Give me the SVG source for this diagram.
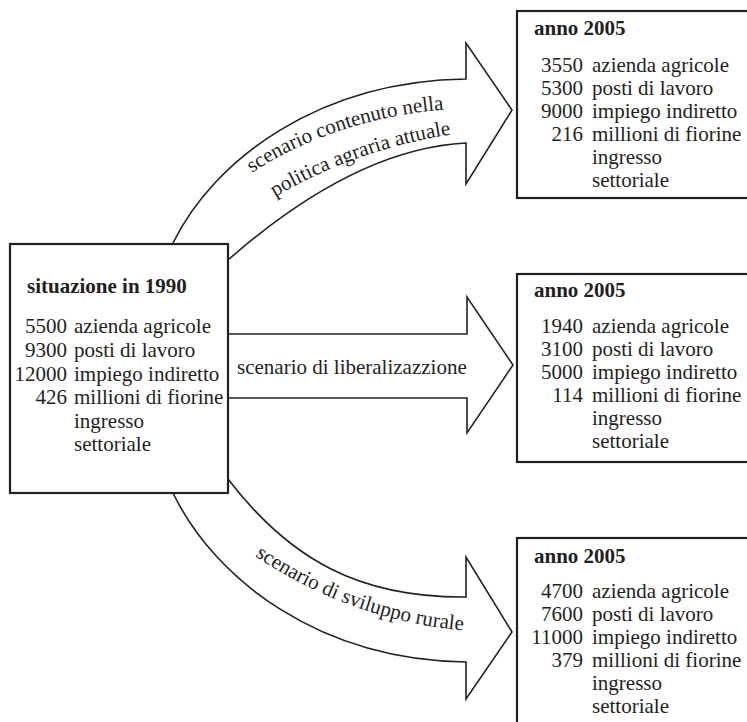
<svg xmlns="http://www.w3.org/2000/svg" width="747" height="722" viewBox="0 0 747 722">
<style>
text{font-family:"Liberation Serif","Times New Roman",serif;font-size:21px;fill:#231f20}
.b{font-weight:bold}
.n{text-anchor:end}
.box{fill:#fff;stroke:#231f20;stroke-width:2.2}
.arr{fill:none;stroke:#231f20;stroke-width:1.6;stroke-linejoin:miter}
</style>
<defs>
<path id="t1" d="M252,173 C301,140 372,114 452,109"/>
<path id="t2" d="M275,197 C325,167 394,141 464,133"/>
<path id="t3" d="M255,556 C318,598 390,625 470,631"/>
</defs>
<rect width="747" height="722" fill="#fff"/>
<g id="connectors">
<path class="arr" d="M173,243 C215,158 320,81 466,79 L466,43 L512,110 L466,184 L466,143 C370,148 285,210 228,260"/>
<path class="arr" d="M228,334 L467,334 L467,297 L513,365 L467,433 L467,398 L228,398"/>
<path class="arr" d="M228,479 C290,560 360,598 466,597 L466,557 L512,632 L466,699 L466,662 C320,660 215,580 173,493"/>
<text><textPath href="#t1">scenario contenuto nella</textPath></text>
<text><textPath href="#t2">politica agraria attuale</textPath></text>
<text x="237" y="374">scenario di liberalizazzione</text>
<text><textPath href="#t3">scenario di sviluppo rurale</textPath></text>
</g>
<g id="situazione1990">
<rect class="box" x="10" y="244" width="218" height="249"/>
<text class="b" x="27" y="293">situazione in 1990</text>
<text class="n" x="67" y="333">5500</text><text x="74" y="333">azienda agricole</text>
<text class="n" x="67" y="357">9300</text><text x="74" y="357">posti di lavoro</text>
<text class="n" x="67" y="380.5">12000</text><text x="74" y="380.5">impiego indiretto</text>
<text class="n" x="67" y="404">426</text><text x="74" y="404">millioni di fiorine</text>
<text x="74" y="427.5">ingresso</text>
<text x="74" y="451">settoriale</text>
</g>
<g id="anno2005a">
<rect class="box" x="517" y="11" width="245" height="187"/>
<text class="b" x="534" y="35">anno 2005</text>
<text class="n" x="583" y="72">3550</text><text x="592" y="72">azienda agricole</text>
<text class="n" x="583" y="95">5300</text><text x="592" y="95">posti di lavoro</text>
<text class="n" x="583" y="118">9000</text><text x="592" y="118">impiego indiretto</text>
<text class="n" x="583" y="141">216</text><text x="592" y="141">millioni di fiorine</text>
<text x="592" y="164">ingresso</text>
<text x="592" y="187">settoriale</text>
</g>
<g id="anno2005b">
<rect class="box" x="517" y="274" width="245" height="188"/>
<text class="b" x="534" y="297">anno 2005</text>
<text class="n" x="583" y="333">1940</text><text x="592" y="333">azienda agricole</text>
<text class="n" x="583" y="356">3100</text><text x="592" y="356">posti di lavoro</text>
<text class="n" x="583" y="379">5000</text><text x="592" y="379">impiego indiretto</text>
<text class="n" x="583" y="402">114</text><text x="592" y="402">millioni di fiorine</text>
<text x="592" y="425">ingresso</text>
<text x="592" y="448">settoriale</text>
</g>
<g id="anno2005c">
<rect class="box" x="517" y="538" width="245" height="200"/>
<text class="b" x="534" y="563">anno 2005</text>
<text class="n" x="583" y="598">4700</text><text x="592" y="598">azienda agricole</text>
<text class="n" x="583" y="621">7600</text><text x="592" y="621">posti di lavoro</text>
<text class="n" x="583" y="644">11000</text><text x="592" y="644">impiego indiretto</text>
<text class="n" x="583" y="667">379</text><text x="592" y="667">millioni di fiorine</text>
<text x="592" y="690">ingresso</text>
<text x="592" y="713">settoriale</text>
</g>
</svg>
